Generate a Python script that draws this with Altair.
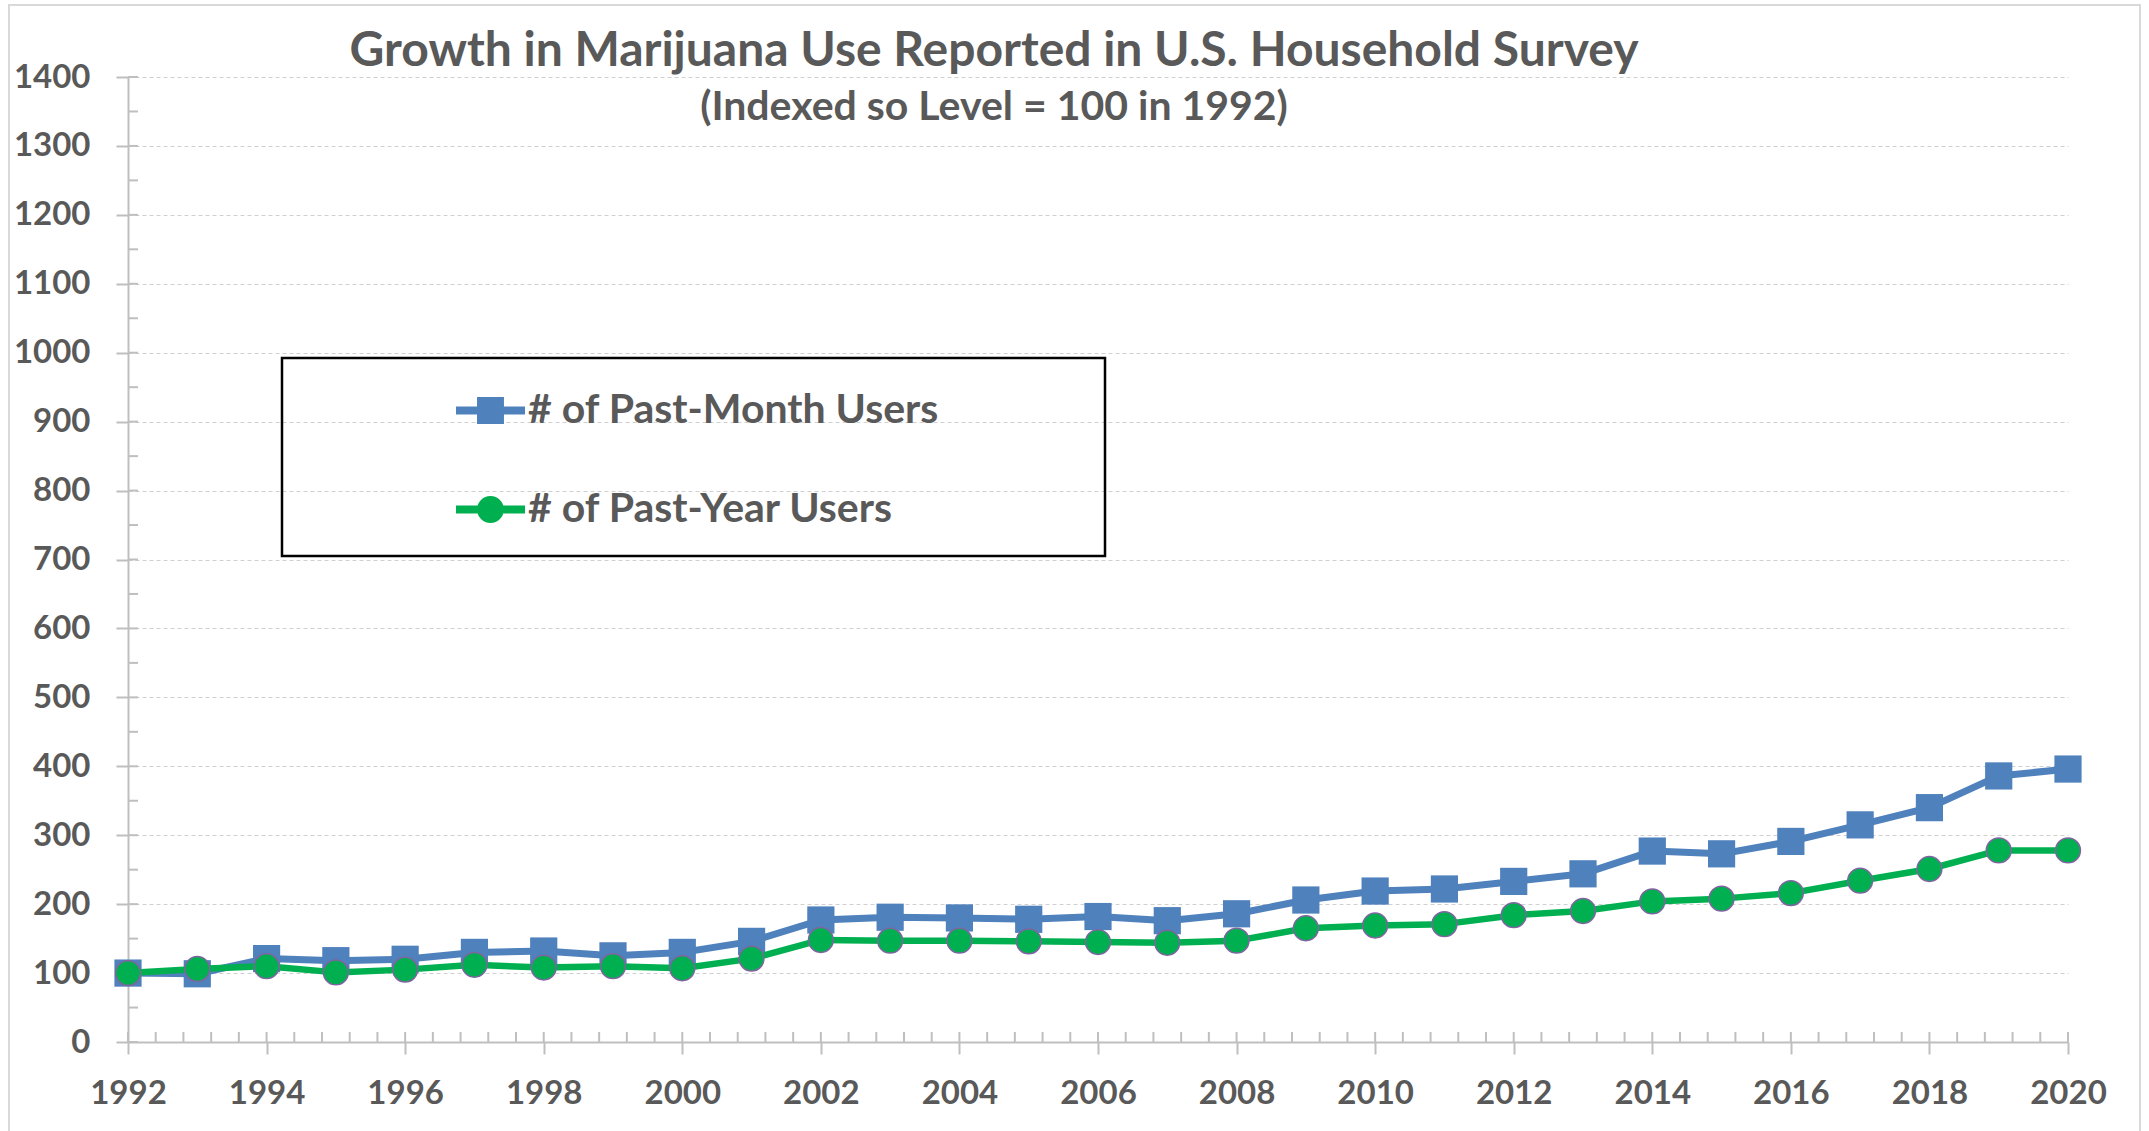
import altair as alt
import pandas as pd

# ---- data -------------------------------------------------------------
years = list(range(1992, 2021))
past_month = [100, 99, 121, 118, 120, 130, 132, 125, 130, 146,
              177, 181, 180, 178, 182, 176, 186, 206, 219, 222,
              233, 244, 277, 273, 291, 315, 340, 386, 396]
past_year = [100, 106, 110, 101, 105, 112, 108, 110, 107, 121,
             148, 147, 147, 146, 145, 144, 147, 165, 169, 171,
             184, 190, 204, 208, 216, 234, 251, 278, 278]
series_names = ["# of Past-Month Users", "# of Past-Year Users"]
series_colors = ["#4f81bd", "#00b050"]
y_tick_values = list(range(0, 1401, 100))
y_minor_values = list(range(0, 1401, 50))
x_label_years = list(range(1992, 2021, 2))
x_minor_values = [1992 + 0.4 * i for i in range(71)]
title_text = "Growth in Marijuana Use Reported in U.S. Household Survey"
subtitle_text = "(Indexed so Level = 100 in 1992)"

# ---- styling ----------------------------------------------------------
W, H = 1940, 965
TEXT = "#595959"
AXIS_GRAY = "#bfbfbf"
FONT = "Lato"
MARKER_OUTLINE = "#8064a2"

month_df = pd.DataFrame({"year": years, "value": past_month, "series": series_names[0]})
year_df = pd.DataFrame({"year": years, "value": past_year, "series": series_names[1]})

x_scale = alt.Scale(domain=[1992, 2020], nice=False, zero=False)
y_scale = alt.Scale(domain=[0, 1400], nice=False, zero=True)

x_axis = alt.Axis(
    values=x_label_years, format="d", title=None, grid=False,
    domainColor=AXIS_GRAY, domainWidth=2, tickColor=AXIS_GRAY, tickWidth=2,
    tickSize=12, labelFont=FONT, labelFontSize=33, labelFontWeight="bold",
    labelColor=TEXT, labelPadding=23, labelFlush=False, labelOverlap=False,
)
y_axis = alt.Axis(
    values=y_tick_values, format="d", title=None, grid=True, gridColor="#d0d0d0",
    gridDash=[4, 3], gridWidth=1, domainColor=AXIS_GRAY, domainWidth=2,
    tickColor=AXIS_GRAY, tickWidth=2, tickSize=12, labelFont=FONT,
    labelFontSize=33, labelFontWeight="bold", labelColor=TEXT, labelPadding=26,
)

x_enc = alt.X("year:Q", scale=x_scale, axis=x_axis)
y_enc = alt.Y("value:Q", scale=y_scale, axis=y_axis)

one_row = pd.DataFrame({"k": [0]})

# light frame around the whole chart area
outer_frame = alt.Chart(one_row).mark_rect(
    filled=False, stroke="#d9d9d9", strokeWidth=2
).encode(x=alt.value(-119), x2=alt.value(2012), y=alt.value(-72), y2=alt.value(1070))

# minor tick marks pointing into the plot
y_minor = alt.Chart(pd.DataFrame({"value": y_minor_values})).mark_rule(
    color=AXIS_GRAY, strokeWidth=2
).encode(y=y_enc, x=alt.value(0), x2=alt.value(10))

x_minor = alt.Chart(pd.DataFrame({"year": x_minor_values})).mark_rule(
    color=AXIS_GRAY, strokeWidth=2
).encode(x=x_enc, y=alt.value(H), y2=alt.value(H - 10))

month_line = alt.Chart(month_df).mark_line(
    color=series_colors[0], strokeWidth=7, strokeJoin="round"
).encode(x=x_enc, y=y_enc)
month_pts = alt.Chart(month_df).mark_square(
    color=series_colors[0], size=740, opacity=1
).encode(x=x_enc, y=y_enc)

year_line = alt.Chart(year_df).mark_line(
    color=series_colors[1], strokeWidth=6.5, strokeJoin="round"
).encode(x=x_enc, y=y_enc)
year_pts = alt.Chart(year_df).mark_circle(
    fill=series_colors[1], stroke=MARKER_OUTLINE, strokeWidth=1.5, size=616, opacity=1
).encode(x=x_enc, y=y_enc)

# legend: line-with-marker symbols inside a black box
square_sym = "M-1,-0.115H1V0.115H-1Z M-0.39,-0.39H0.39V0.39H-0.39Z"
circle_sym = ("M-1,-0.115H1V0.115H-1Z "
              "M-0.39,0A0.39,0.39 0 1,1 0.39,0A0.39,0.39 0 1,1 -0.39,0Z")
legend_spec = dict(
    title=None, orient="none", legendX=328, legendY=299, direction="vertical",
    symbolSize=4761, symbolStrokeWidth=0, symbolOpacity=1,
    labelFont=FONT, labelFontSize=41, labelFontWeight="bold", labelColor=TEXT,
    labelOffset=3, rowPadding=44, labelLimit=0,
)
legend_layer = alt.Chart(pd.DataFrame({"series": series_names})).transform_filter(
    "false"
).mark_point(filled=True, opacity=1, size=4761, strokeWidth=0).encode(
    color=alt.Color("series:N", scale=alt.Scale(domain=series_names, range=series_colors),
                    legend=alt.Legend(**legend_spec)),
    shape=alt.Shape("series:N", scale=alt.Scale(domain=series_names, range=[square_sym, circle_sym]),
                    legend=alt.Legend(**legend_spec)),
)
legend_box = alt.Chart(one_row).mark_rect(
    filled=False, stroke="black", strokeWidth=2.5
).encode(x=alt.value(154), x2=alt.value(977), y=alt.value(281), y2=alt.value(479))

chart = alt.layer(
    outer_frame, y_minor, x_minor, month_line, month_pts, year_line, year_pts,
    legend_box, legend_layer,
).properties(
    width=W, height=H,
    autosize=alt.AutoSizeParams(type="none"),
    padding={"left": 128, "top": 77, "right": 81, "bottom": 89},
    background="white",
    title=alt.Title(
        text=title_text, subtitle=subtitle_text, anchor="middle", frame="group",
        dx=-104, dy=124, offset=0, font=FONT, fontSize=48, fontWeight="bold", color=TEXT,
        subtitleFont=FONT, subtitleFontSize=41, subtitleFontWeight="bold",
        subtitleColor=TEXT, subtitlePadding=12,
    ),
).configure_view(strokeWidth=0)

chart.save("out.html", embed_options={"renderer": "svg", "actions": False})
